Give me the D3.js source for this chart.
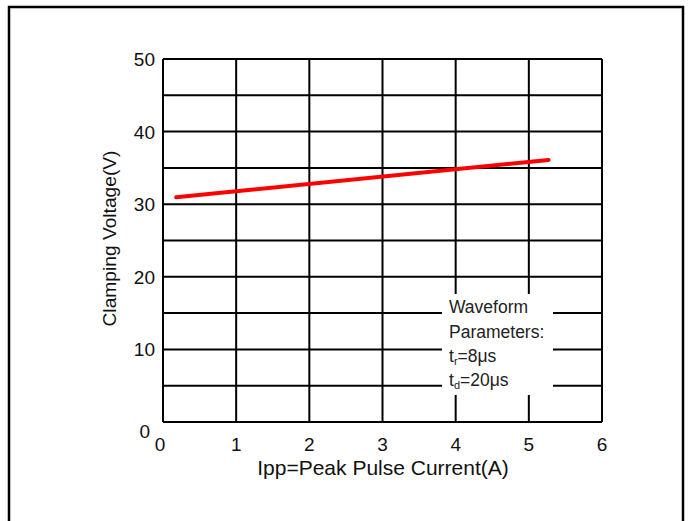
<!DOCTYPE html>
<html>
<head>
<meta charset="utf-8">
<script src="https://cdn.jsdelivr.net/npm/d3@7"></script>
<style>
  body { margin: 0; background: #fff; }
  svg { display: block; font-family: "Liberation Sans", Arial, sans-serif; }
</style>
</head>
<body>
<div id="chart"></div>
<script>
// data
const currents = [0.18, 5.27];      // A
const voltages = [30.95, 36.1];     // V
const xTicks = [0, 1, 2, 3, 4, 5, 6];
const yTicks = [0, 10, 20, 30, 40, 50];
const yGrid = [5, 15, 25, 35, 45];
const noteLines = ['Waveform', 'Parameters:'];

const W = 690, H = 521;
const plot = { left: 163, right: 602, top: 59, bottom: 422 };

const svg = d3.select('#chart').append('svg')
  .attr('width', W).attr('height', H);

// outer frame
svg.append('rect')
  .attr('x', 9).attr('y', 7)
  .attr('width', 674).attr('height', 530)
  .attr('fill', 'none').attr('stroke', '#000').attr('stroke-width', 2.5);

const x = d3.scaleLinear().domain([0, 6]).range([plot.left, plot.right]);
const y = d3.scaleLinear().domain([0, 50]).range([plot.bottom, plot.top]);

// grid
const grid = svg.append('g').attr('stroke', '#000').attr('stroke-width', 2);
grid.selectAll('.vx').data(xTicks).join('line')
  .attr('x1', d => x(d)).attr('x2', d => x(d))
  .attr('y1', plot.top).attr('y2', plot.bottom);
grid.selectAll('.hy').data(yTicks.concat(yGrid)).join('line')
  .attr('x1', plot.left).attr('x2', plot.right)
  .attr('y1', d => y(d)).attr('y2', d => y(d));

// data line
const line = d3.line().x((d, i) => x(currents[i])).y(d => y(d));
svg.append('path')
  .datum(voltages)
  .attr('d', line)
  .attr('fill', 'none')
  .attr('stroke', '#ff0000')
  .attr('stroke-width', 4)
  .attr('stroke-linecap', 'round');

// note box (white patch over the grid)
svg.append('rect')
  .attr('x', 442).attr('y', 294)
  .attr('width', 111).attr('height', 101)
  .attr('fill', '#fff');

const note = svg.append('g').attr('font-size', 17.5).attr('fill', '#222');
note.selectAll('.nl').data(noteLines).join('text')
  .attr('x', 449).attr('y', (d, i) => 313 + i * 25)
  .text(d => d);
const tr = note.append('text').attr('x', 449).attr('y', 362);
tr.append('tspan').text('t');
tr.append('tspan').attr('font-size', 11).attr('dy', 3).text('r');
tr.append('tspan').attr('dy', -3).text('=8μs');
const td = note.append('text').attr('x', 449).attr('y', 386);
td.append('tspan').text('t');
td.append('tspan').attr('font-size', 11).attr('dy', 3).text('d');
td.append('tspan').attr('dy', -3).text('=20μs');

// tick labels
const labels = svg.append('g').attr('font-size', 19).attr('fill', '#111');
labels.selectAll('.xl').data(xTicks).join('text')
  .attr('x', d => x(d) - (d === 0 ? 3 : 0))
  .attr('y', plot.bottom + 29)
  .attr('text-anchor', 'middle')
  .text(d => d);
labels.selectAll('.yl').data(yTicks).join('text')
  .attr('x', d => d === 0 ? 150 : 155)
  .attr('y', d => y(d) + (d === 0 ? 16 : 7))
  .attr('text-anchor', 'end')
  .text(d => d);

// axis titles
svg.append('text')
  .attr('x', 383).attr('y', 475)
  .attr('text-anchor', 'middle')
  .attr('font-size', 21).attr('fill', '#111')
  .text('Ipp=Peak Pulse Current(A)');
svg.append('text')
  .attr('transform', 'translate(116,238.5) rotate(-90)')
  .attr('text-anchor', 'middle')
  .attr('font-size', 19.2).attr('fill', '#111')
  .text('Clamping Voltage(V)');
</script>
</body>
</html>
